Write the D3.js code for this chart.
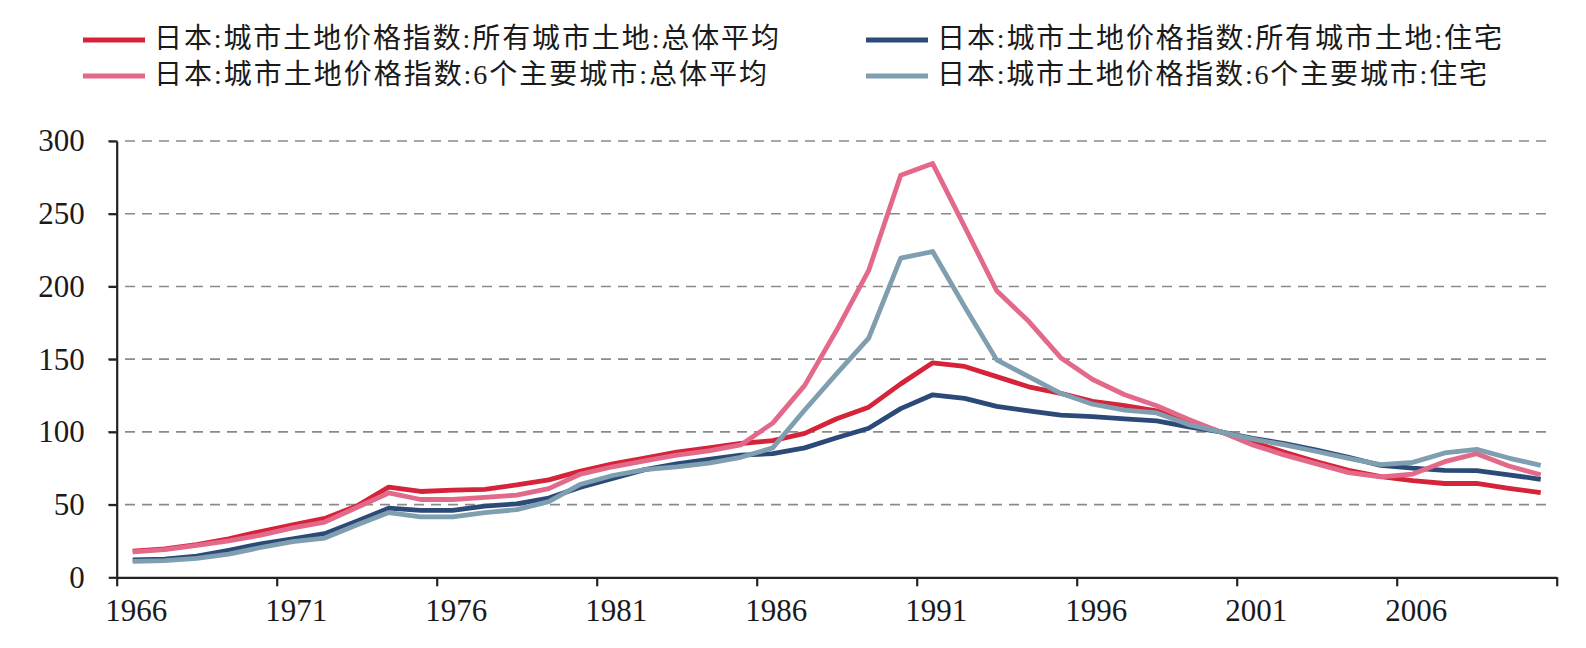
<!DOCTYPE html>
<html>
<head>
<meta charset="utf-8">
<script src="https://cdn.jsdelivr.net/npm/d3@7"></script>
<style>
  html, body { margin: 0; padding: 0; background: #fff; }
  svg { display: block; }
</style>
</head>
<body>
<script>
// years on the category axis (one point per year)
const years = d3.range(1966, 2011);

// index values, 2000 = 100
const allCitiesAvg = [18, 19.5, 22.5, 26.5, 31.5, 36, 40.5, 49, 62, 59, 60, 60.5, 63.5, 67, 73,
  78, 82, 86, 89, 92, 94, 99, 109, 117, 133, 147.5, 145, 138, 131, 126.5, 121, 118, 114.5, 106.5, 100,
  93, 86, 79.5, 73.5, 69.2, 66.4, 64.5, 64.6, 61.2, 58.2];
const allCitiesRes = [12, 12.5, 14.5, 18.5, 23, 26.5, 30, 38.5, 47.5, 46, 46, 49, 50.5, 54.5, 62,
  68, 74, 78, 81, 84, 85, 89, 96, 102.5, 116, 125.5, 123, 117.5, 114.5, 111.5, 110.5, 109, 107.5, 103.5, 100,
  95.5, 92, 87.5, 82.5, 77, 75, 73.5, 73.3, 70.5, 67.4];
const sixCitiesAvg = [17.5, 19, 22, 25, 29, 34, 38, 48, 58, 53.5, 53.5, 55, 56.5, 61, 71,
  76, 80, 84, 87, 91, 106, 132, 170, 211, 276.5, 284.5, 241, 197, 176, 151, 136, 125.5, 118, 108.5, 100,
  91, 84, 78, 72, 69, 71, 79.5, 85, 76.5, 70.5];
const sixCitiesRes = [11, 11.5, 13, 16, 20.5, 24.5, 27, 36, 44.5, 41.5, 41.5, 44.5, 46.5, 52, 64,
  70, 74, 76, 78.5, 82.5, 89, 115, 140, 164.5, 219.5, 224, 186, 149.5, 138, 126.5, 119, 115, 113, 105, 100,
  95, 91, 86.5, 81.8, 77.5, 79, 85.5, 88, 82, 77];

const seriesNames = [
  '日本:城市土地价格指数:所有城市土地:总体平均',
  '日本:城市土地价格指数:所有城市土地:住宅',
  '日本:城市土地价格指数:6个主要城市:总体平均',
  '日本:城市土地价格指数:6个主要城市:住宅'
];
const seriesColors = ['#d5233a', '#2c4a78', '#e3698a', '#7f9eb0'];
const seriesValues = [allCitiesAvg, allCitiesRes, sixCitiesAvg, sixCitiesRes];

const yTicks = [0, 50, 100, 150, 200, 250, 300];
const xTickYears = [1966, 1971, 1976, 1981, 1986, 1991, 1996, 2001, 2006, 2011];

const width = 1586, height = 648;
const svg = d3.select('body').append('svg')
  .attr('width', width)
  .attr('height', height);

// scales: each year occupies one slot, points sit at the slot centre
const x = d3.scaleLinear().domain([1966, 2011]).range([116.7, 1556.7]);
const y = d3.scaleLinear().domain([0, 300]).range([577.3, 141]);
const slot = x(1967) - x(1966);

// dashed gridlines
svg.append('g')
  .selectAll('line')
  .data(yTicks.filter(d => d > 0))
  .join('line')
  .attr('x1', 108)
  .attr('x2', 1550)
  .attr('y1', d => y(d))
  .attr('y2', d => y(d))
  .attr('stroke', '#8a8a8a')
  .attr('stroke-width', 1.6)
  .attr('stroke-dasharray', '10,7');

// lines
const line = d3.line()
  .x((d, i) => x(years[i]) + slot / 2)
  .y(d => y(d));

svg.append('g')
  .selectAll('path')
  .data(seriesValues)
  .join('path')
  .attr('d', d => line(d))
  .attr('fill', 'none')
  .attr('stroke', (d, i) => seriesColors[i])
  .attr('stroke-width', 4.8)
  .attr('stroke-linejoin', 'round');

// y axis
const yAxis = svg.append('g')
  .attr('transform', `translate(${x(1966)},0)`)
  .call(d3.axisLeft(y).tickValues(yTicks).tickSize(8).tickPadding(24).tickSizeOuter(0));
yAxis.select('.domain').attr('stroke', '#222').attr('stroke-width', 2.2);
yAxis.selectAll('.tick line').attr('stroke', '#222').attr('stroke-width', 2.2);
yAxis.selectAll('.tick text')
  .attr('fill', '#1a1a1a')
  .style('font-family', '"Liberation Serif", "DejaVu Serif", serif')
  .style('font-size', '31px');

// x axis: ticks on slot boundaries, labels in the slot
const xAxis = svg.append('g')
  .attr('transform', `translate(0,${y(0)})`)
  .call(d3.axisBottom(x).tickValues(xTickYears).tickSize(9).tickPadding(13).tickSizeOuter(0)
    .tickFormat(d => d === 2011 ? '' : String(d)));
xAxis.select('.domain').attr('stroke', '#222').attr('stroke-width', 2.2);
xAxis.selectAll('.tick line').attr('stroke', '#222').attr('stroke-width', 2.2);
xAxis.selectAll('.tick text')
  .attr('x', slot / 2 + 3)
  .attr('fill', '#1a1a1a')
  .style('font-family', '"Liberation Serif", "DejaVu Serif", serif')
  .style('font-size', '31px');

// legend, two columns
const legendPos = [
  { lx: 83, ly: 40, tw: 625 },
  { lx: 866, ly: 40, tw: 565 },
  { lx: 83, ly: 76, tw: 613 },
  { lx: 866, ly: 76, tw: 550 }
];
const legend = svg.append('g')
  .selectAll('g')
  .data(seriesNames)
  .join('g')
  .attr('transform', (d, i) => `translate(${legendPos[i].lx},${legendPos[i].ly})`);

legend.append('line')
  .attr('x1', 0)
  .attr('x2', 62)
  .attr('stroke', (d, i) => seriesColors[i])
  .attr('stroke-width', 5);

legend.append('text')
  .attr('x', 71)
  .attr('y', 8)
  .attr('textLength', (d, i) => legendPos[i].tw)
  .attr('lengthAdjust', 'spacing')
  .attr('fill', '#1a1a1a')
  .style('font-family', '"Liberation Serif", "Noto Sans CJK SC", serif')
  .style('font-size', '28px')
  .text(d => d);
</script>
</body>
</html>
